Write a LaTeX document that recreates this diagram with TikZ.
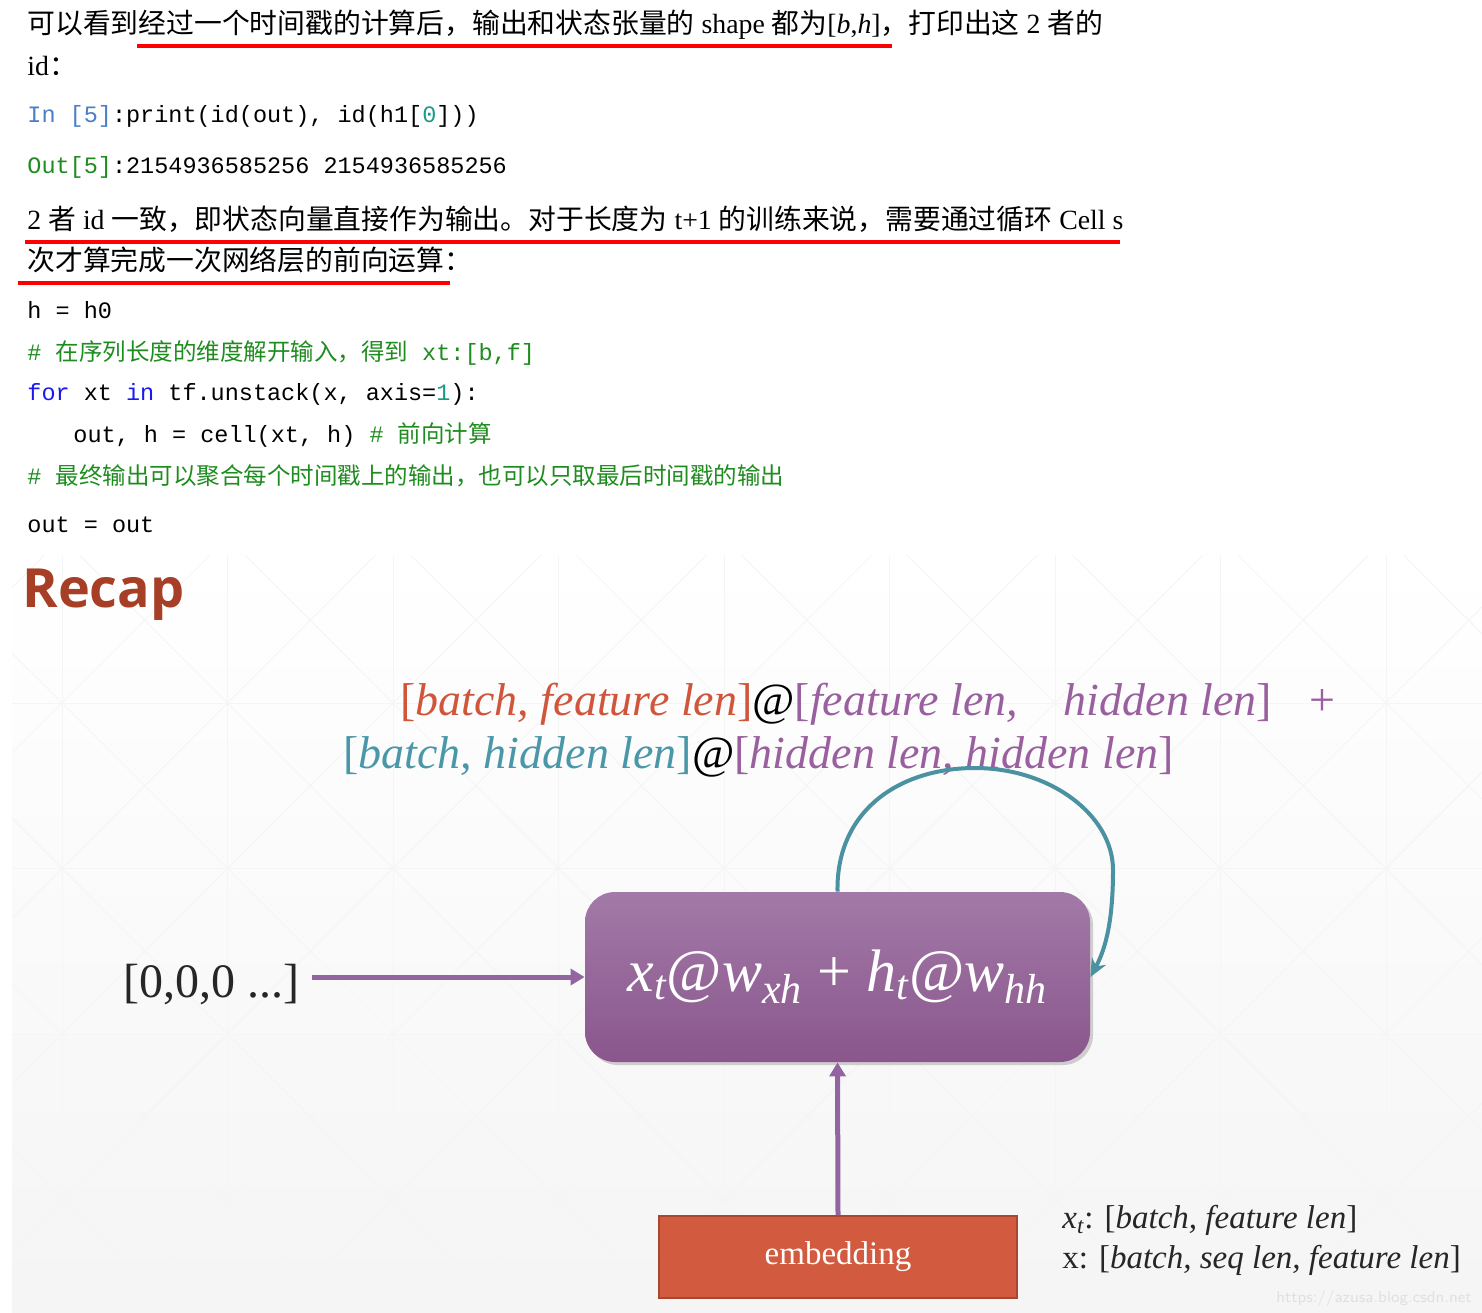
\documentclass[tikz,border=0pt]{standalone}
\usepackage{amsmath}
\usepackage{fontspec}
\setmainfont{Liberation Serif}
\setmonofont{Liberation Mono}
\newfontfamily\cjk{Noto Sans CJK SC}
\newfontfamily\recapfont{Open Sans}
\usetikzlibrary{arrows.meta, shadows}

\definecolor{inblue}{HTML}{4A7FC6}
\definecolor{kwblue}{HTML}{1A1AF0}
\definecolor{cmtgreen}{HTML}{1E8C1E}
\definecolor{numteal}{HTML}{1A9A8A}
\definecolor{recapred}{HTML}{A63F26}
\definecolor{xorange}{HTML}{D0553A}
\definecolor{wpurple}{HTML}{9A5F9E}
\definecolor{hteal}{HTML}{4A97A9}
\definecolor{celltop}{HTML}{A27AA7}
\definecolor{cellbot}{HTML}{8A568D}
\definecolor{flowpurple}{HTML}{9265A0}
\definecolor{loopteal}{HTML}{4A91A2}
\definecolor{embfill}{HTML}{D15A3F}
\definecolor{embedge}{HTML}{A8472F}

\newcommand{\zh}[1]{{\cjk #1}}
\newcommand{\iv}[1]{\textit{#1}}

\begin{document}
\begin{tikzpicture}[x=0.5pt, y=-0.5pt, >=Stealth,
  para/.style={anchor=base west, inner sep=0pt, font=\fontsize{13.9}{16}\selectfont},
  code/.style={anchor=base west, inner sep=0pt, font=\fontsize{11.75}{14}\selectfont\ttfamily},
  redline/.style={red, line width=2pt},
  gridline/.style={black!4, line width=0.5pt},
  shapetext/.style={anchor=base west, inner sep=0pt, font=\fontsize{23}{26}\selectfont},
  cell/.style={rounded corners=15pt, minimum width=252.5pt, minimum height=85pt,
    top color=celltop, bottom color=cellbot, text=white,
    drop shadow={opacity=0.35, shadow xshift=1.5pt, shadow yshift=-1.5pt},
    font=\fontsize{30}{34}\selectfont},
  embbox/.style={draw=embedge, fill=embfill, line width=0.8pt, minimum width=179pt,
    minimum height=41pt, text=white, font=\fontsize{16.5}{20}\selectfont},
  note/.style={anchor=base west, inner sep=0pt, text=black!85, font=\fontsize{16.5}{20}\selectfont},
  flow/.style={->, >={Triangle[length=7pt, width=8pt]}, flowpurple, line width=2.5pt},
  recur/.style={->, >={Stealth[length=9pt, width=8pt]}, loopteal, line width=2pt}]

\useasboundingbox (0,0) rectangle (1482,1312);

% slide background with its faint lattice
\shade[top color=white, bottom color=black!4] (12,555) rectangle (1482,1312);
\begin{scope}
  \clip (12,555) rectangle (1482,1312);
  \foreach \gx in {62,227.5,...,1482} \draw[gridline] (\gx,555) -- (\gx,1312);
  \foreach \gy in {703,868.5,1034,1199.5} \draw[gridline] (12,\gy) -- (1482,\gy);
  \foreach \k in {-4,...,9} \draw[gridline] ({-86+165.5*\k},555) -- ({671+165.5*\k},1312);
  \foreach \k in {-1,...,13} \draw[gridline] ({210+165.5*\k},555) -- ({-547+165.5*\k},1312);
\end{scope}

% document text
\node[para] (p1) at (27,33) {\zh{可以看到经过一个时间戳的计算后，输出和状态张量的} shape \zh{都为}[\textit{b},\textit{h}]\zh{，打印出这} 2 \zh{者的}};
\node[para] (p2) at (27,75) {id\zh{：}};
\draw[redline] (137,46) -- (892,46);

\node[code] (in5) at (27,122) {\textcolor{inblue}{In [5]}:print(id(out), id(h1[\textcolor{numteal}{0}]))};
\node[code] (out5) at (27,173) {\textcolor{cmtgreen}{Out[5]}:2154936585256 2154936585256};

\node[para] (p3) at (27,229) {2 \zh{者} id \zh{一致，即状态向量直接作为输出。对于长度为} t+1 \zh{的训练来说，需要通过循环} Cell s};
\node[para] (p4) at (27,270) {\zh{次才算完成一次网络层的前向运算：}};
\draw[redline] (25,242) -- (1120,242);
\draw[redline] (18,283) -- (450,283);

% code block
\node[code] (c0) at (27,318) {h = h0};
\node[code, cmtgreen] (c1) at (27,360) {\# \zh{在序列长度的维度解开输入，得到} xt:[b,f]};
\node[code] (c2) at (27,400) {\textcolor{kwblue}{for} xt \textcolor{kwblue}{in} tf.unstack(x, axis=\textcolor{numteal}{1}):};
\node[code] (c3) at (73,442) {out, h = cell(xt, h) \textcolor{cmtgreen}{\# \zh{前向计算}}};
\node[code, cmtgreen] (c4) at (27,484) {\# \zh{最终输出可以聚合每个时间戳上的输出，也可以只取最后时间戳的输出}};
\node[code] (c5) at (27,532) {out = out};

% slide
\node[anchor=base west, inner sep=0pt, text=recapred, font=\fontsize{27}{32}\selectfont\recapfont\bfseries] (recap) at (22,607) {Recap};

\node[shapetext] (f1) at (400,715) {\textcolor{xorange}{[\iv{batch, feature len}]}@\textcolor{wpurple}{[\iv{feature len,\ \ \ \ hidden len}]}};
\node[shapetext, anchor=base, text=wpurple] (plus) at (1322,715) {+};
\node[shapetext] (f2) at (343,768) {\textcolor{hteal}{[\iv{batch, hidden len}]}@\textcolor{wpurple}{[\iv{hidden len, hidden len}]}};

\node[cell] (cell) at (837.5,977) {\iv{x}$_{\iv{t}}$@\iv{w}$_{\iv{xh}}$ + \iv{h}$_{\iv{t}}$@\iv{w}$_{\iv{hh}}$};
\node[anchor=base west, inner sep=0pt, text=black!85, font=\fontsize{24}{28}\selectfont] (zeros) at (123,997) {[0,0,0 ...]};
\node[embbox] (emb) at (838,1257) {\raisebox{-2pt}{embedding}};

\node[note] (xt) at (1062,1228) {\iv{x}$_{\iv{t}}$: [\iv{batch, feature len}]};
\node[note] (xs) at (1062,1268) {x: [\iv{batch, seq len, feature len}]};

% connectors
\coordinate (looptop) at (975,768);
\coordinate (loopright) at (1113,870);
\draw[flow, shorten <=6pt] (zeros.east |- cell.west) -- (cell.west);
\draw[flow] (emb.north) -- (cell.south);
\draw[recur] (cell.north) .. controls (836,810) and (900,768) .. (looptop)
  .. controls (1050,768) and (1113,815) .. (loopright)
  .. controls (1113,920) and (1106,948) .. (cell.east);

\node[anchor=base east, inner sep=0pt, text=black!12, font=\fontsize{8}{10}\selectfont\sffamily] (url) at (1472,1302) {https://azusa.blog.csdn.net};

\end{tikzpicture}
\end{document}
